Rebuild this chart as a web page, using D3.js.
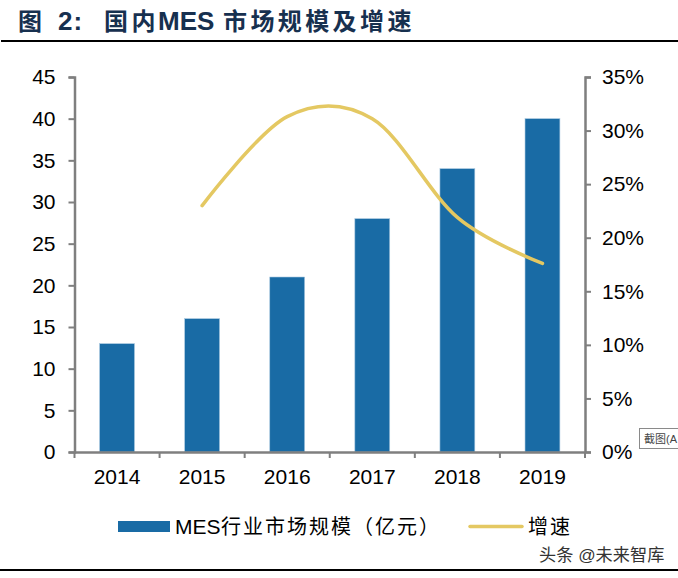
<!DOCTYPE html>
<html>
<head>
<meta charset="utf-8">
<script src="https://cdn.jsdelivr.net/npm/d3@7"></script>
<style>
html, body { margin: 0; padding: 0; background: #fff; }
text { font-family: "Liberation Sans", Arial, sans-serif; fill: #000; }
.cjk { font-family: "Liberation Sans", "Noto Sans CJK SC", sans-serif; }
</style>
</head>
<body>
<div id="viz"></div>
<script>
var years = ['2014', '2015', '2016', '2017', '2018', '2019'];
var marketSize = [13, 16, 21, 28, 34, 40];
var growthYears = ['2015', '2016', '2017', '2018', '2019'];
var growthRate = [0.23, 0.313, 0.311, 0.219, 0.176];
var leftTicks = [0, 5, 10, 15, 20, 25, 30, 35, 40, 45];
var rightTicks = [0, 0.05, 0.10, 0.15, 0.20, 0.25, 0.30, 0.35];

var barColor = '#196ba5';
var lineColor = '#e4c862';
var axisColor = '#7f7f7f';

var margin = { top: 77, left: 74.5, right: 93, bottom: 126 };
var width = 678 - margin.left - margin.right;
var height = 578 - margin.top - margin.bottom;

var svg = d3.select('#viz').append('svg')
    .attr('width', 678)
    .attr('height', 578)
    .style('display', 'block');

// title, placed piece by piece because the spacing is uneven
var titleParts = [
    { t: '图', x: 18, size: 24, gap: 0 },
    { t: '2:', x: 58, size: 26, gap: 1 },
    { t: '国内', x: 104, size: 24, gap: 3.4 },
    { t: 'MES', x: 158, size: 26, gap: 0 },
    { t: '市场规模及增速', x: 223, size: 24, gap: 3.4 }
];
svg.append('g').selectAll('text')
    .data(titleParts)
    .enter().append('text')
    .attr('class', 'cjk')
    .attr('x', function(d) { return d.x; })
    .attr('y', 30)
    .style('font-size', function(d) { return d.size + 'px'; })
    .style('letter-spacing', function(d) { return d.gap + 'px'; })
    .style('font-weight', 'bold')
    .style('fill', '#17304f')
    .text(function(d) { return d.t; });

svg.append('line')
    .attr('x1', 1).attr('x2', 678)
    .attr('y1', 41).attr('y2', 41)
    .attr('stroke', '#000').attr('stroke-width', 2);
svg.append('line')
    .attr('x1', 0).attr('x2', 678)
    .attr('y1', 570).attr('y2', 570)
    .attr('stroke', '#000').attr('stroke-width', 2);

var g = svg.append('g')
    .attr('transform', 'translate(' + margin.left + ',' + margin.top + ')');

var x = d3.scaleBand().domain(years).range([0, width]).paddingInner(0.59).paddingOuter(0.295);
var yLeft = d3.scaleLinear().domain([0, 45]).range([height, 0]);
var yRight = d3.scaleLinear().domain([0, 0.35]).range([height, 0]);

g.selectAll('.bar')
    .data(marketSize)
    .enter().append('rect')
    .attr('class', 'bar')
    .attr('x', function(d, i) { return x(years[i]); })
    .attr('width', x.bandwidth())
    .attr('y', function(d) { return yLeft(d); })
    .attr('height', function(d) { return height - yLeft(d); })
    .attr('fill', barColor)
    .attr('stroke', '#a9c8e0')
    .attr('stroke-width', 0.6);

var valueline = d3.line()
    .x(function(d, i) { return x(growthYears[i]) + x.bandwidth() / 2; })
    .y(function(d) { return yRight(d); })
    .curve(d3.curveCardinal.tension(0));

g.append('path')
    .attr('d', valueline(growthRate))
    .attr('fill', 'none')
    .attr('stroke', lineColor)
    .attr('stroke-width', 3.5)
    .attr('stroke-linecap', 'round');

function styleAxis(sel) {
    sel.selectAll('.domain').attr('stroke', axisColor).attr('stroke-width', 2.5);
    sel.selectAll('.tick line').attr('stroke', axisColor).attr('stroke-width', 2);
    sel.selectAll('.tick text').style('font-size', '21px').style('font-family', '"Liberation Sans", Arial, sans-serif').attr('fill', '#000');
}

var leftAxis = g.append('g')
    .call(d3.axisLeft(yLeft).tickValues(leftTicks).tickSize(6).tickPadding(13));
styleAxis(leftAxis);

var rightAxis = g.append('g')
    .attr('transform', 'translate(' + width + ',0)')
    .call(d3.axisRight(yRight).tickValues(rightTicks).tickFormat(d3.format('.0%')).tickSize(6).tickPadding(11));
styleAxis(rightAxis);

// x axis ticks sit on the category boundaries, so labels and ticks are separate
var bottomAxis = g.append('g')
    .attr('transform', 'translate(0,' + height + ')')
    .call(d3.axisBottom(x).tickSize(0).tickPadding(17));
styleAxis(bottomAxis);
var step = x.step();
bottomAxis.selectAll('.boundary')
    .data(d3.range(years.length + 1))
    .enter().append('line')
    .attr('class', 'boundary')
    .attr('x1', function(d) { return d * step; })
    .attr('x2', function(d) { return d * step; })
    .attr('y1', 0)
    .attr('y2', 6)
    .attr('stroke', axisColor)
    .attr('stroke-width', 2);

// legend
var legend = svg.append('g');
legend.append('rect')
    .attr('x', 118).attr('y', 521)
    .attr('width', 52).attr('height', 11)
    .attr('fill', barColor);
legend.append('text')
    .attr('x', 175).attr('y', 534)
    .style('font-size', '21px')
    .text('MES');
legend.append('text')
    .attr('class', 'cjk')
    .attr('x', 221).attr('y', 534)
    .style('font-size', '20px')
    .style('letter-spacing', '2px')
    .text('行业市场规模（亿元）');
legend.append('line')
    .attr('x1', 470).attr('x2', 522)
    .attr('y1', 526.5).attr('y2', 526.5)
    .attr('stroke', lineColor)
    .attr('stroke-width', 3.5)
    .attr('stroke-linecap', 'round');
legend.append('text')
    .attr('class', 'cjk')
    .attr('x', 528).attr('y', 534)
    .style('font-size', '20px')
    .style('letter-spacing', '2px')
    .text('增速');

// screenshot tooltip and watermark
svg.append('rect')
    .attr('x', 639.5).attr('y', 428.5)
    .attr('width', 44).attr('height', 20)
    .attr('fill', '#fff')
    .attr('stroke', '#8a8a8a')
    .attr('stroke-width', 1);
svg.append('text')
    .attr('class', 'cjk')
    .attr('x', 644).attr('y', 443)
    .style('font-size', '11px')
    .style('fill', '#444')
    .text('截图(A');

svg.append('text')
    .attr('class', 'cjk')
    .attr('x', 539).attr('y', 561)
    .style('font-size', '17.2px')
    .style('fill', '#333')
    .text('头条 @未来智库');
</script>
</body>
</html>
